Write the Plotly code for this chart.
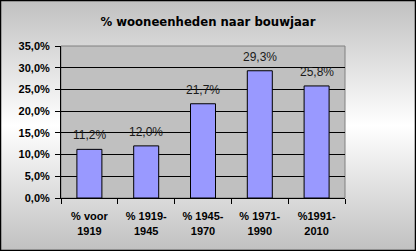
import base64
import plotly.graph_objects as go

categories = ["% voor<br>1919", "% 1919-<br>1945", "% 1945-<br>1970", "% 1971-<br>1990", "%1991-<br>2010"]
values = [0.112, 0.120, 0.217, 0.293, 0.258]
title = "% wooneenheden naar bouwjaar"

svg = (
    '<svg xmlns="http://www.w3.org/2000/svg" width="416" height="251" preserveAspectRatio="none">'
    '<defs><linearGradient id="g" x1="0" y1="0" x2="0" y2="1">'
    '<stop offset="0" stop-color="#c0c0c0"/><stop offset="0.5" stop-color="#ffffff"/>'
    '<stop offset="1" stop-color="#c0c0c0"/></linearGradient></defs>'
    '<rect width="416" height="251" fill="url(#g)"/></svg>'
)
src = "data:image/svg+xml;base64," + base64.b64encode(svg.encode()).decode()

fig = go.Figure(go.Bar(
    x=categories, y=values,
    width=0.44,
    marker=dict(color="#9999ff", line=dict(color="#000000", width=1)),
))

for c, v in zip(categories, values):
    fig.add_annotation(
        x=c, y=v, text=f"{v * 100:.1f}%".replace(".", ","),
        showarrow=False, yanchor="bottom", yshift=5,
        font=dict(family="Liberation Sans", size=12, color="#1a1a1a"),
    )

fig.update_layout(
    width=416, height=251,
    margin=dict(l=61, r=71, t=46, b=53),
    separators=",.",
    paper_bgcolor="#c0c0c0",
    plot_bgcolor="rgba(0,0,0,0)",
    showlegend=False,
    title=dict(text="<b>" + title + "</b>", x=0.5, xanchor="center", y=1 - 22 / 251, yanchor="middle",
               font=dict(family="DejaVu Sans", size=11.7, color="#000000")),
    images=[dict(source=src, xref="paper", yref="paper", x=-61 / 284, y=1 + 46 / 152,
                 sizex=416 / 284, sizey=251 / 152, sizing="stretch", layer="below",
                 xanchor="left", yanchor="top")],
    shapes=[
        dict(type="rect", xref="paper", yref="paper", x0=0, x1=1, y0=0, y1=1,
             fillcolor="#c0c0c0", line=dict(color="#808080", width=1), layer="below"),
        dict(type="rect", xref="paper", yref="paper", x0=-60.5 / 284, x1=1 + 70.5 / 284,
             y0=-52.5 / 152, y1=1 + 45.5 / 152, line=dict(color="#000000", width=1.5),
             fillcolor="rgba(0,0,0,0)", layer="above"),
    ],
)
fig.update_xaxes(
    showline=True, linecolor="#000000", linewidth=1,
    ticks="outside", ticklen=5, tickcolor="#000000", tickson="boundaries",
    ticklabelstandoff=8,
    tickfont=dict(family="Liberation Sans", size=11, color="#000000", weight="bold"),
    showgrid=False,
)
fig.update_yaxes(
    range=[0, 0.35], dtick=0.05, tickformat=".1%",
    showline=True, linecolor="#000000", linewidth=1,
    ticks="outside", ticklen=5, tickcolor="#000000",
    ticklabelstandoff=3,
    showgrid=True, gridcolor="#000000", gridwidth=1,
    tickfont=dict(family="Liberation Sans", size=11, color="#000000", weight="bold"),
    zeroline=False,
)
fig.write_html("out.html")
